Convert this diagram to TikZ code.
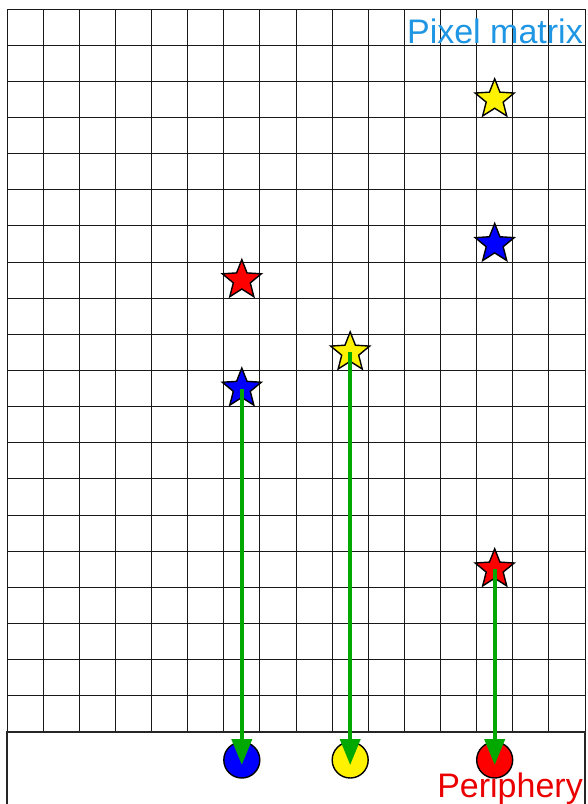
\documentclass[tikz,border=0pt]{standalone}
\usepackage{fontspec}
\setmainfont{Liberation Sans}
\usetikzlibrary{shapes.geometric,arrows.meta}
\definecolor{arrgreen}{RGB}{0,168,0}
\definecolor{labblue}{RGB}{30,150,228}
\definecolor{labred}{RGB}{235,0,0}
\tikzset{
  gridline/.style={draw=black!90,line width=1pt},
  boxline/.style={draw=black!85,line width=1.4pt},
  pstar/.style={star,star points=5,star point ratio=2.3,minimum size=41pt,inner sep=0pt,draw=black,line width=1.4pt},
  pdot/.style={circle,minimum size=36pt,inner sep=0pt,draw=black,line width=1.4pt},
  arr/.style={draw=arrgreen,line width=4pt,-{Triangle[width=20pt,length=26pt]},shorten >=-5pt},
  lab/.style={font=\fontsize{34}{40}\selectfont,inner sep=0pt,anchor=base east}
}
\begin{document}
\begin{tikzpicture}[x=1pt,y=-1pt]
\useasboundingbox (0,0) rectangle (588,804);
\begin{scope}
\clip (0,0) rectangle (588,804);
% grid
\foreach \i in {0,...,16} \draw[gridline] ({7+\i*36.125},9) -- ({7+\i*36.125},732);
\foreach \j in {0,...,20} \draw[gridline] (7,{9+\j*36.15}) -- (585,{9+\j*36.15});
% periphery box
\draw[boxline] (7,820) -- (7,732) -- (585,732) -- (585,820);
\end{scope}
% stars
\def\cx#1{7+#1*36.125+18.06}
\def\cy#1{9+#1*36.15+18.07}
\node[pstar,fill=yellow] (sy1) at ({\cx{13}},{\cy{2}}) {};
\node[pstar,fill=blue]   (sb1) at ({\cx{13}},{\cy{6}}) {};
\node[pstar,fill=red]    (sr1) at ({\cx{6}},{\cy{7}}) {};
\node[pstar,fill=yellow] (sy2) at ({\cx{9}},{\cy{9}}) {};
\node[pstar,fill=blue]   (sb2) at ({\cx{6}},{\cy{10}}) {};
\node[pstar,fill=red]    (sr2) at ({\cx{13}},{\cy{15}}) {};
% periphery dots
\node[pdot,fill=blue]   (cb) at ({\cx{6}},760) {};
\node[pdot,fill=yellow] (cy) at ({\cx{9}},760) {};
\node[pdot,fill=red]    (cr) at ({\cx{13}},760) {};
% arrows
\draw[arr] (sb2.center) -- (cb.center);
\draw[arr] (sy2.center) -- (cy.center);
\draw[arr] (sr2.center) -- (cr.center);
% labels
\node[lab,text=labblue] (tpm) at (583,43) {Pixel matrix};
\node[lab,text=labred] (tper) at (583,797) {Periphery};
\end{tikzpicture}
\end{document}
